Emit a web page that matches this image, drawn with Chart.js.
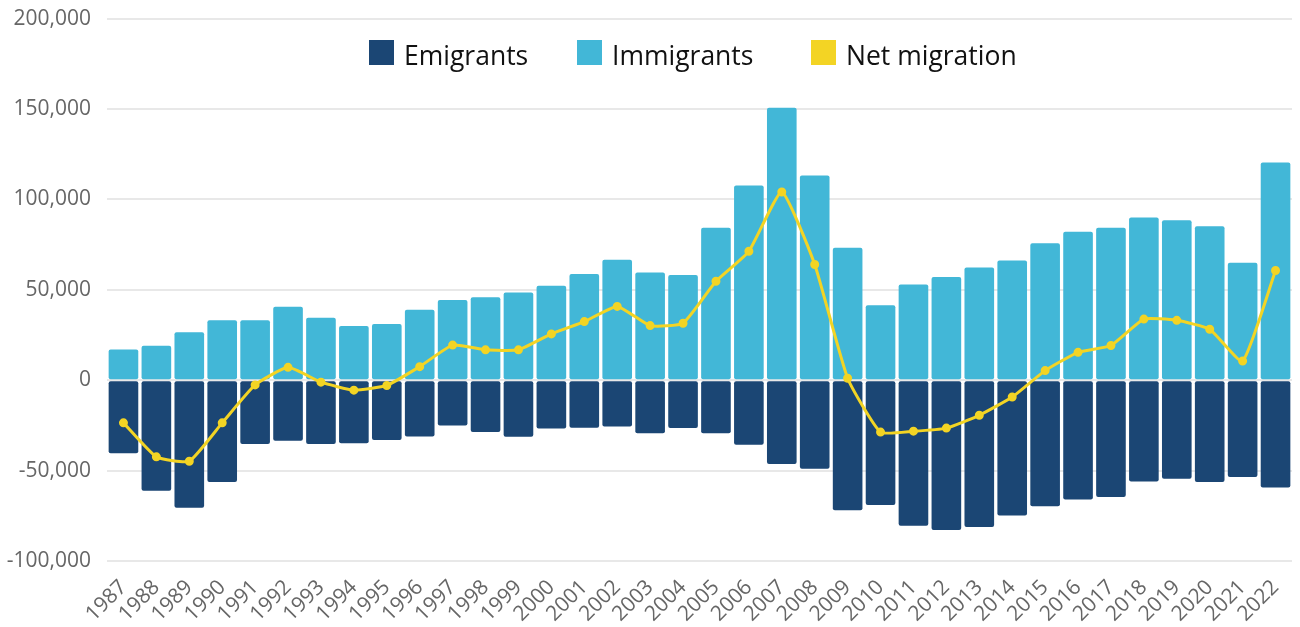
<!DOCTYPE html>
<html>
<head>
<meta charset="utf-8">
<script src="https://cdn.jsdelivr.net/npm/chart.js@4/dist/chart.umd.min.js"></script>
<style>
    html, body { margin: 0; padding: 0; background: #ffffff; }
    #wrap { width: 1300px; height: 627px; position: relative; overflow: hidden; }
    #migration_chart { position: absolute; left: 0; top: -10px; }
    #legend {
        position: absolute; left: 0; top: 0;
        font-family: "Open Sans", "DejaVu Sans", sans-serif; font-size: 26.5px; color: #111111;
    }
    .legend-box { position: absolute; top: 40px; width: 25px; height: 25px; }
    .legend-text { position: absolute; top: 39px; white-space: nowrap; line-height: 32px; }
</style>
</head>
<body>
<div id="wrap">
    <canvas id="migration_chart"></canvas>
    <div id="legend"></div>
</div>
<script>
const YEARS = ['1987', '1988', '1989', '1990', '1991', '1992', '1993', '1994', '1995', '1996',
    '1997', '1998', '1999', '2000', '2001', '2002', '2003', '2004', '2005', '2006',
    '2007', '2008', '2009', '2010', '2011', '2012', '2013', '2014', '2015', '2016',
    '2017', '2018', '2019', '2020', '2021', '2022'];

const IMMIGRANTS = [17000, 19000, 26500, 33100, 33100, 40600, 34600, 30000, 31100, 39000,
    44300, 45900, 48500, 52300, 58700, 66600, 59600, 58200, 84300, 107700,
    150700, 113200, 73200, 41500, 52900, 57100, 62400, 66200, 75700, 82100,
    84300, 90000, 88500, 85200, 64900, 120400];

const EMIGRANTS = [-40400, -61100, -70600, -56300, -35300, -33500, -35300, -34900, -33100, -31100,
    -25100, -28700, -31300, -26700, -26300, -25600, -29300, -26500, -29300, -35700,
    -46300, -49000, -71900, -69000, -80500, -82900, -81200, -74800, -69700, -66000,
    -64600, -56000, -54500, -56300, -53600, -59300];

const NET_MIGRATION = [-23600, -42400, -44800, -23600, -2600, 7100, -1100, -5500, -2900, 7500,
    19400, 16800, 16800, 25600, 32400, 40800, 30200, 31500, 54700, 71300,
    104100, 64000, 1100, -28700, -28200, -26500, -19400, -9300, 5300, 15400,
    19200, 33800, 33100, 28200, 10600, 60700];

const LEGEND_ORDER = ['Emigrants', 'Immigrants', 'Net migration'];
// left edge of each legend swatch, as seen in the reference
const LEGEND_X = [369, 577, 811];

const COLORS = {
    NAVY: '#1b4674',
    CYAN: '#42b7d7',
    YELLOW: '#f3d424',
    GRID: '#e8e8e8',
    TICK: '#666666',
    TEXT: '#111111'
};

const FONT_FAMILY = '"Open Sans", "DejaVu Sans", sans-serif';

const getMigrationConfig = () => {
    return {
        type: 'bar',
        data: {
            labels: YEARS,
            datasets: [
                {
                    type: 'line',
                    label: 'Net migration',
                    data: NET_MIGRATION,
                    order: 0,
                    borderColor: COLORS.YELLOW,
                    backgroundColor: COLORS.YELLOW,
                    pointBackgroundColor: COLORS.YELLOW,
                    pointBorderColor: COLORS.YELLOW,
                    pointRadius: 3,
                    borderWidth: 3,
                    tension: 0.15,
                    fill: false,
                },
                {
                    label: 'Emigrants',
                    data: EMIGRANTS,
                    order: 1,
                    stack: 'flows',
                    backgroundColor: COLORS.NAVY,
                    borderRadius: 2,
                    borderSkipped: false,
                    barPercentage: 0.9,
                    categoryPercentage: 1.0,
                },
                {
                    label: 'Immigrants',
                    data: IMMIGRANTS,
                    order: 1,
                    stack: 'flows',
                    backgroundColor: COLORS.CYAN,
                    borderRadius: 2,
                    borderSkipped: false,
                    barPercentage: 0.9,
                    categoryPercentage: 1.0,
                },
            ],
        },
        options: {
            responsive: false,
            animation: false,
            layout: {
                padding: { left: 0, right: 8, top: 0, bottom: 0 }
            },
            plugins: {
                legend: { display: false },
                tooltip: { enabled: false }
            },
            scales: {
                x: {
                    stacked: true,
                    grid: { display: false },
                    border: { display: false },
                    afterFit: (scale) => { scale.height = 66; },
                    ticks: {
                        color: COLORS.TICK,
                        maxRotation: 45,
                        minRotation: 45,
                        autoSkip: false,
                        padding: 6,
                        font: { family: FONT_FAMILY, size: 21 }
                    }
                },
                y: {
                    stacked: true,
                    min: -100000,
                    max: 200000,
                    border: { display: false },
                    grid: { color: COLORS.GRID, lineWidth: 2, drawTicks: false },
                    afterFit: (scale) => { scale.width = 107; },
                    ticks: {
                        stepSize: 50000,
                        color: COLORS.TICK,
                        padding: 16,
                        font: { family: FONT_FAMILY, size: 21 },
                        callback: (value) => value.toLocaleString('en-US')
                    }
                }
            }
        }
    };
};

const buildLegend = (chart) => {
    const legend = document.getElementById('legend');
    LEGEND_ORDER.forEach((name, i) => {
        const ds = chart.data.datasets.find((d) => d.label === name);
        const box = document.createElement('span');
        box.className = 'legend-box';
        box.style.left = LEGEND_X[i] + 'px';
        box.style.background = ds.backgroundColor;
        const text = document.createElement('span');
        text.className = 'legend-text';
        text.style.left = (LEGEND_X[i] + 35) + 'px';
        text.textContent = ds.label;
        legend.appendChild(box);
        legend.appendChild(text);
    });
};

const ctx = document.getElementById('migration_chart');
ctx.width = 1300;
ctx.height = 637;
const migrationChart = new Chart(ctx, getMigrationConfig());
buildLegend(migrationChart);
</script>
</body>
</html>
